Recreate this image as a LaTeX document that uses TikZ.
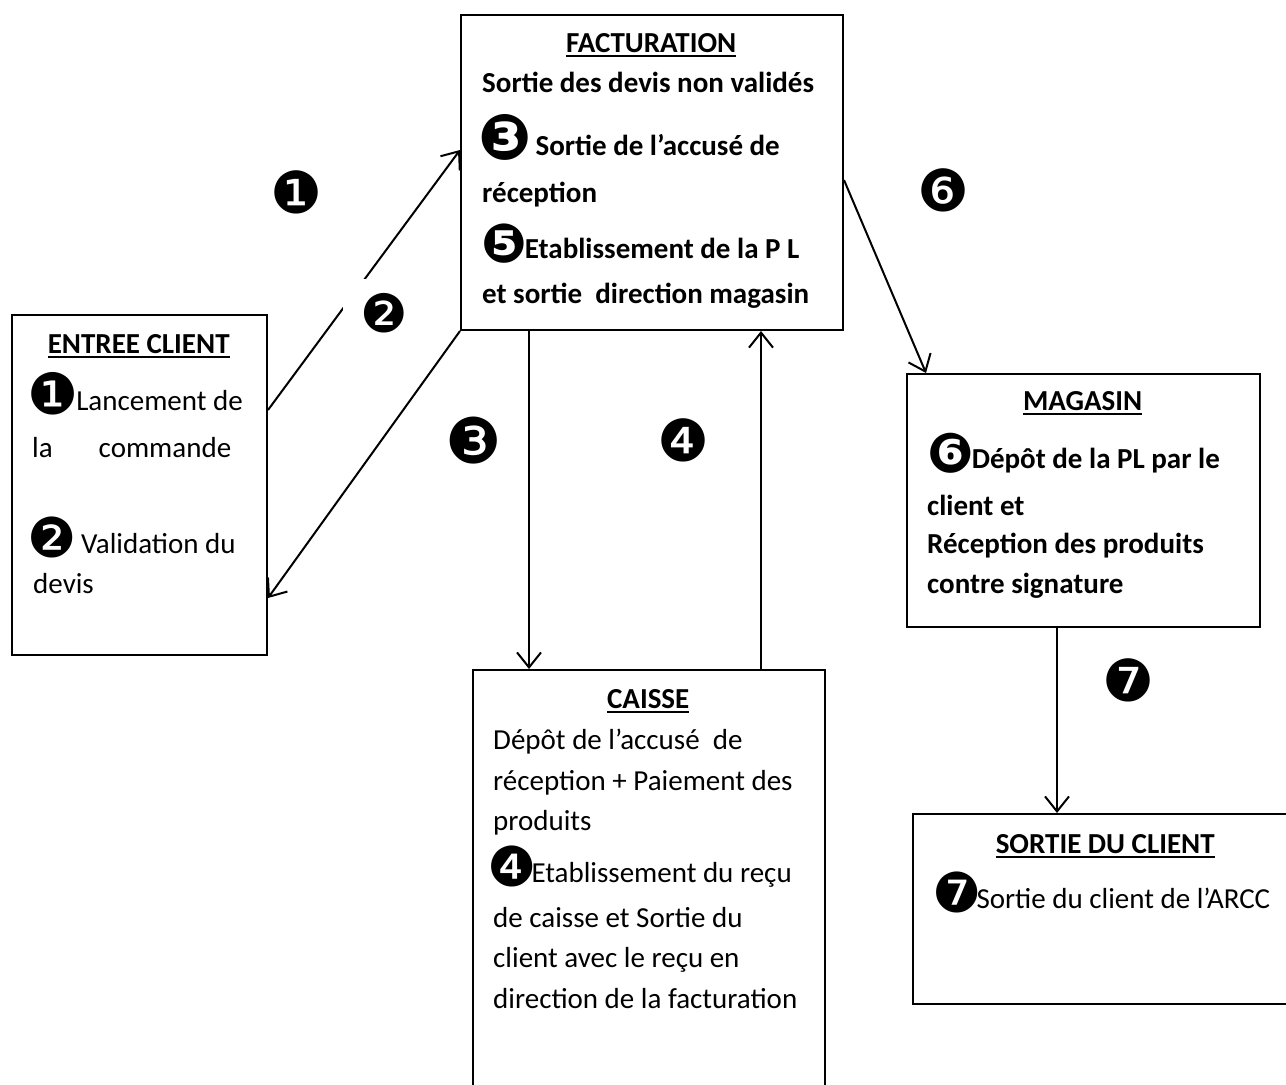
\documentclass[tikz,border=0pt]{standalone}
\usepackage{fontspec}
\setmainfont{Carlito}
\newfontfamily\dings{DejaVu Sans}
\usetikzlibrary{arrows.meta,calc}
\newcommand\ulx[1]{\setbox0\hbox{#1}\rlap{\rule[-5pt]{\wd0}{2pt}}\box0}
\newcommand\hd[1]{\makebox[\linewidth][c]{\bfseries\ulx{#1}}}
\newcommand\cn[2][57]{\raisebox{-4pt}{\dings\fontsize{#1}{#1}\selectfont #2}}
\tikzset{
  box/.style={draw, line width=2pt, inner sep=0pt, anchor=north west},
  txt/.style={anchor=base west, inner sep=0pt},
  conn/.style={line width=2pt, -{Straight Barb[length=15pt,width=24pt]}},
  lbl/.style={inner sep=0pt, font=\dings\fontsize{58}{58}\selectfont}
}
\newcommand\bodyfont{\fontsize{29}{41}\selectfont\lineskiplimit=-100pt\parindent=0pt}
\begin{document}
\begin{tikzpicture}[x=1pt,y=-1pt]
\useasboundingbox (0,0) rectangle (1286,1085);
\clip (0,0) rectangle (1286,1085);
% boxes
\node[box, minimum width=255, minimum height=340] (entree) at (11,314) {};
\node[box, minimum width=382, minimum height=315] (fact) at (460,14) {};
\node[box, minimum width=352, minimum height=500] (caisse) at (472,669) {};
\node[box, minimum width=353, minimum height=253] (mag) at (906,373) {};
\node[box, minimum width=386, minimum height=190] (sortie) at (912,813) {};
% texts
\node[txt] (entreeT) at (11,353) {\begin{minipage}[t]{255pt}\bodyfont
\hd{ENTREE CLIENT}\\[16pt]
\hspace*{16pt}\cn{❶}\hspace{-2pt}Lancement de\\[6pt]
\hspace*{21pt}\makebox[199pt][s]{la\hfill commande}\\[55pt]
\hspace*{16pt}\cn[55]{❷}\hspace{-2pt} Validation du\\[-1pt]
\hspace*{22pt}devis
\end{minipage}};
\node[txt] (factT) at (460,52) {\begin{minipage}[t]{382pt}\bodyfont\bfseries
\hd{FACTURATION}\\[-1pt]
\hspace*{22pt}Sortie des devis non validés\\[22pt]
\hspace*{18pt}\cn[63]{❸}\hspace{4pt}Sortie de l’accusé de\\[6pt]
\hspace*{22pt}réception\\[15pt]
\hspace*{21pt}\cn[54]{❺}\hspace{-2pt}Etablissement de la P L\\[4pt]
\hspace*{22pt}et sortie\ \ direction magasin
\end{minipage}};
\node[txt] (caisseT) at (472,708) {\begin{minipage}[t]{352pt}\bodyfont
\hd{CAISSE}\\
\hspace*{21pt}Dépôt de l’accusé\ \ de\\
\hspace*{21pt}réception + Paiement des\\[-1pt]
\hspace*{21pt}produits\\[11pt]
\hspace*{15pt}\cn[55]{❹}\hspace{-5pt}Etablissement du reçu\\[4pt]
\hspace*{21pt}de caisse et Sortie du\\[-1pt]
\hspace*{21pt}client avec le reçu en\\
\hspace*{21pt}direction de la facturation
\end{minipage}};
\node[txt] (magT) at (906,410) {\begin{minipage}[t]{353pt}\bodyfont\bfseries
\hd{MAGASIN}\\[17pt]
\hspace*{21pt}\cn[55]{❻}\hspace{-2pt}Dépôt de la PL par le\\[6pt]
\hspace*{21pt}client et\\[-3pt]
\hspace*{21pt}Réception des produits\\[-1pt]
\hspace*{21pt}contre signature
\end{minipage}};
\node[txt] (sortieT) at (912,853) {\begin{minipage}[t]{386pt}\bodyfont
\hd{SORTIE DU CLIENT}\\[14pt]
\hspace*{20pt}\cn[55]{❼}\hspace{-5pt}Sortie du client de l’ARCC
\end{minipage}};
% connectors
\draw[conn] ($(entree.north east)+(0,96)$) -- ($(fact.north west)+(0,136)$);
\draw[conn] (fact.south west) -- ($(entree.north east)+(0,284)$);
\draw[conn] ($(fact.south west)+(69,0)$) -- ($(caisse.north west)+(57,0)$);
\draw[conn] ($(caisse.north west)+(289,0)$) -- ($(fact.south west)+(301,0)$);
\draw[conn] ($(fact.north east)+(0,166)$) -- ($(mag.north west)+(20,0)$);
\draw[conn] ($(mag.south west)+(151,0)$) -- ($(sortie.north west)+(145,0)$);
% step labels
\node[lbl] (n1) at (296,192) {❶};
\node[lbl, fill=white, minimum width=82, minimum height=68, font=\dings\fontsize{53}{53}\selectfont] (n2) at (384,313) {❷};
\node[lbl, font=\dings\fontsize{63}{63}\selectfont] (n3) at (474,441) {❸};
\node[lbl] (n4) at (683,440) {❹};
\node[lbl] (n6) at (943,190) {❻};
\node[lbl] (n7) at (1128,680) {❼};
\end{tikzpicture}
\end{document}
